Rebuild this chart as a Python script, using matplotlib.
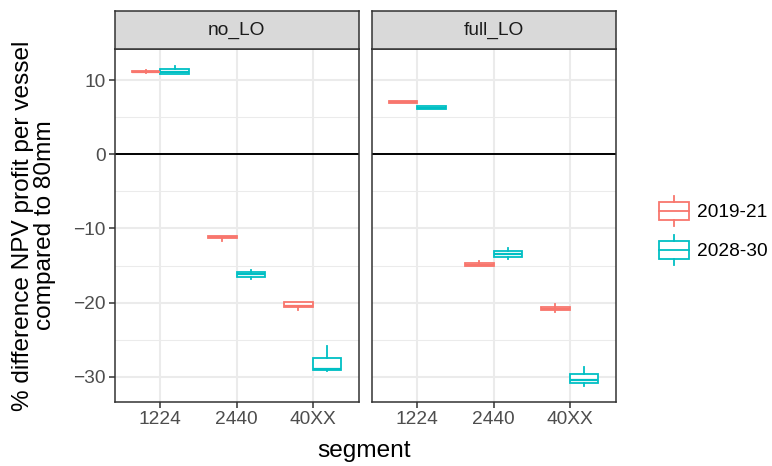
import matplotlib
matplotlib.use("Agg")
import matplotlib.pyplot as plt
from matplotlib.patches import Rectangle
from matplotlib.ticker import MultipleLocator

plt.rcParams["font.family"] = ["Liberation Sans", "DejaVu Sans"]

segments = ["1224", "2440", "40XX"]
periods = ["2019-21", "2028-30"]
facets = ["no_LO", "full_LO"]
colors = ["#F8766D", "#00BFC4"]

# (whisker low, q1, median, q3, whisker high) per segment
no_lo_2019 = [(11.0, 11.05, 11.15, 11.3, 11.35),
              (-11.7, -11.35, -11.2, -11.0, -10.95),
              (-21.0, -20.6, -20.45, -19.95, -19.9)]
no_lo_2028 = [(10.8, 10.85, 11.1, 11.45, 11.95),
              (-16.75, -16.5, -16.2, -15.9, -15.6),
              (-29.2, -29.15, -29.0, -27.45, -25.9)]
full_lo_2019 = [(6.9, 6.95, 7.1, 7.22, 7.25),
                (-15.1, -15.05, -14.9, -14.7, -14.45),
                (-21.2, -21.0, -20.8, -20.55, -20.2)]
full_lo_2028 = [(6.1, 6.15, 6.3, 6.47, 6.5),
                (-14.1, -13.8, -13.4, -13.07, -12.6),
                (-31.2, -30.86, -30.5, -29.6, -28.7)]

panel_data = {"no_LO": [no_lo_2019, no_lo_2028],
              "full_LO": [full_lo_2019, full_lo_2028]}


def to_stats(rows):
    return [dict(whislo=r[0], q1=r[1], med=r[2], q3=r[3], whishi=r[4], fliers=[])
            for r in rows]


W, H = 772, 466
fig = plt.figure(figsize=(W / 100, H / 100), dpi=100)

panel_left = [114.5, 371.5]
panel_w = 244
panel_top, panel_bot = 49, 402
strip_top = 11

ylim = (-33.4, 14.2)
bw = 0.375
tick_fs = 13.8
title_fs = 17.6

for k, facet in enumerate(facets):
    ax = fig.add_axes([panel_left[k] / W, 1 - panel_bot / H,
                       panel_w / W, (panel_bot - panel_top) / H])
    ax.set_xlim(0.4, 3.6)
    ax.set_ylim(*ylim)
    ax.yaxis.set_major_locator(MultipleLocator(10))
    ax.yaxis.set_minor_locator(MultipleLocator(5))
    ax.set_xticks([1, 2, 3])
    ax.set_xticklabels(segments)
    ax.grid(which="major", color="#EBEBEB", lw=1.5)
    ax.grid(which="minor", axis="y", color="#EBEBEB", lw=0.75)
    ax.set_axisbelow(True)
    ax.axhline(0, color="black", lw=1.4, zorder=1.5)

    for j, per in enumerate(periods):
        pos = [i + 1 + (j - 0.5) * bw for i in range(len(segments))]
        c = colors[j]
        ax.bxp(to_stats(panel_data[facet][j]), positions=pos, widths=bw,
               showcaps=False, showfliers=False, patch_artist=True,
               boxprops=dict(facecolor="white", edgecolor=c, lw=1.3),
               medianprops=dict(color=c, lw=1.6),
               whiskerprops=dict(color=c, lw=1.3),
               manage_ticks=False, zorder=3)

    for s in ax.spines.values():
        s.set_color("#333333")
        s.set_linewidth(1.1)
    ax.tick_params(which="major", length=4, width=1.1, color="#333333",
                   labelsize=tick_fs, labelcolor="#4D4D4D", pad=2.5)
    ax.tick_params(which="minor", length=0)
    if k > 0:
        ax.tick_params(axis="y", labelleft=False, length=0)

    sax = fig.add_axes([panel_left[k] / W, 1 - panel_top / H,
                        panel_w / W, (panel_top - strip_top) / H])
    sax.set_facecolor("#D9D9D9")
    sax.set_xticks([])
    sax.set_yticks([])
    for s in sax.spines.values():
        s.set_color("#333333")
        s.set_linewidth(1.1)
    sax.text(0.5, 0.5, facet, ha="center", va="center", fontsize=tick_fs,
             color="#1A1A1A", transform=sax.transAxes)

fig.text(34 / W, 1 - 225.5 / H,
         "% difference NPV profit per vessel\ncompared to 80mm",
         rotation=90, ha="center", va="center", fontsize=title_fs,
         multialignment="center", linespacing=1.0)
fig.text(364.5 / W, 1 - 451 / H, "segment", ha="center", va="center", fontsize=title_fs)

# legend drawn in pixel coordinates
lax = fig.add_axes([0, 0, 1, 1], zorder=-1)
lax.set_xlim(0, W)
lax.set_ylim(H, 0)
lax.axis("off")
key_y = [211, 249.5]
for c, lab, yc in zip(colors, periods, key_y):
    lax.add_patch(Rectangle((658.5, yc - 9), 30, 18, facecolor="white",
                            edgecolor=c, lw=1.3))
    lax.plot([658.5, 688.5], [yc, yc], color=c, lw=1.3)
    lax.plot([673.5, 673.5], [yc - 15, yc - 9], color=c, lw=1.3)
    lax.plot([673.5, 673.5], [yc + 9, yc + 15], color=c, lw=1.3)
    lax.text(697, yc + 1.5, lab, ha="left", va="center", fontsize=tick_fs,
             color="black")

fig.savefig("out.png", dpi=100)
